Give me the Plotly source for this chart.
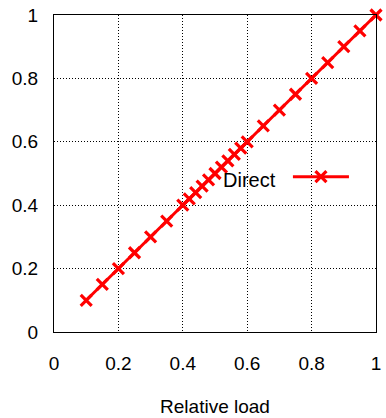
import plotly.graph_objects as go

# Relative load vs. normalised value for the direct scheme
load = [0.10, 0.15, 0.20, 0.25, 0.30, 0.35, 0.40, 0.42, 0.44, 0.46, 0.48,
        0.50, 0.52, 0.54, 0.56, 0.58, 0.60, 0.65, 0.70, 0.75, 0.80, 0.85,
        0.90, 0.95, 1.00]
direct = [0.10, 0.15, 0.20, 0.25, 0.30, 0.35, 0.40, 0.42, 0.44, 0.46, 0.48,
          0.50, 0.52, 0.54, 0.56, 0.58, 0.60, 0.65, 0.70, 0.75, 0.80, 0.85,
          0.90, 0.95, 1.00]
tick_vals = [0, 0.2, 0.4, 0.6, 0.8, 1]
tick_text = ["0", "0.2", "0.4", "0.6", "0.8", "1"]
series_name = "Direct"

FONT = "Liberation Sans, Arial, sans-serif"
FS = 19
RED = "#ff0000"
LINE_W = 3
MARKER = dict(symbol="x-thin", size=11, color=RED,
              line=dict(color=RED, width=3.2))

# Legend key placement, in fractions of the plot area (gnuplot style:
# title on the left, sample line on the right)
KEY_X0, KEY_X1, KEY_Y = 0.742, 0.916, 0.49

fig = go.Figure()
fig.add_trace(go.Scatter(
    x=load, y=direct, mode="lines+markers", name=series_name,
    line=dict(color=RED, width=LINE_W), marker=MARKER,
    cliponaxis=False, showlegend=False,
))

# Legend sample (line + centred marker) on a hidden overlay axis pair
fig.add_trace(go.Scatter(
    x=[KEY_X0, KEY_X1], y=[KEY_Y, KEY_Y],
    xaxis="x2", yaxis="y2", mode="lines",
    line=dict(color=RED, width=LINE_W),
    cliponaxis=False, showlegend=False, hoverinfo="skip",
))
fig.add_trace(go.Scatter(
    x=[(KEY_X0 + KEY_X1) / 2], y=[KEY_Y],
    xaxis="x2", yaxis="y2", mode="markers", marker=MARKER,
    cliponaxis=False, showlegend=False, hoverinfo="skip",
))

axis_common = dict(
    range=[0, 1], tickvals=tick_vals, ticktext=tick_text,
    showgrid=True, gridcolor="black", griddash="1px,2px", gridwidth=1,
    showline=True, linecolor="black", linewidth=1, mirror=True,
    ticks="", zeroline=False, fixedrange=True, automargin=False,
    tickfont=dict(family=FONT, size=FS, color="black"),
)
hidden = dict(range=[0, 1], visible=False, fixedrange=True)

fig.update_layout(
    width=386, height=418,
    margin=dict(l=54, r=10, t=15, b=86),
    paper_bgcolor="white", plot_bgcolor="white",
    font=dict(family=FONT, size=FS, color="black"),
    xaxis=dict(**axis_common, ticklabelstandoff=14,
               title=dict(text="Relative load", standoff=26,
                          font=dict(family=FONT, size=FS))),
    yaxis=dict(**axis_common, ticklabelstandoff=11),
    xaxis2=dict(**hidden, overlaying="x"),
    yaxis2=dict(**hidden, overlaying="y"),
    annotations=[dict(
        text=series_name, xref="x2", yref="y2",
        x=KEY_X0 - 0.045, y=KEY_Y - 0.01, xanchor="right", yanchor="middle",
        showarrow=False, font=dict(family=FONT, size=FS + 1, color="black"),
    )],
    showlegend=False,
)

fig.write_html("out.html")
